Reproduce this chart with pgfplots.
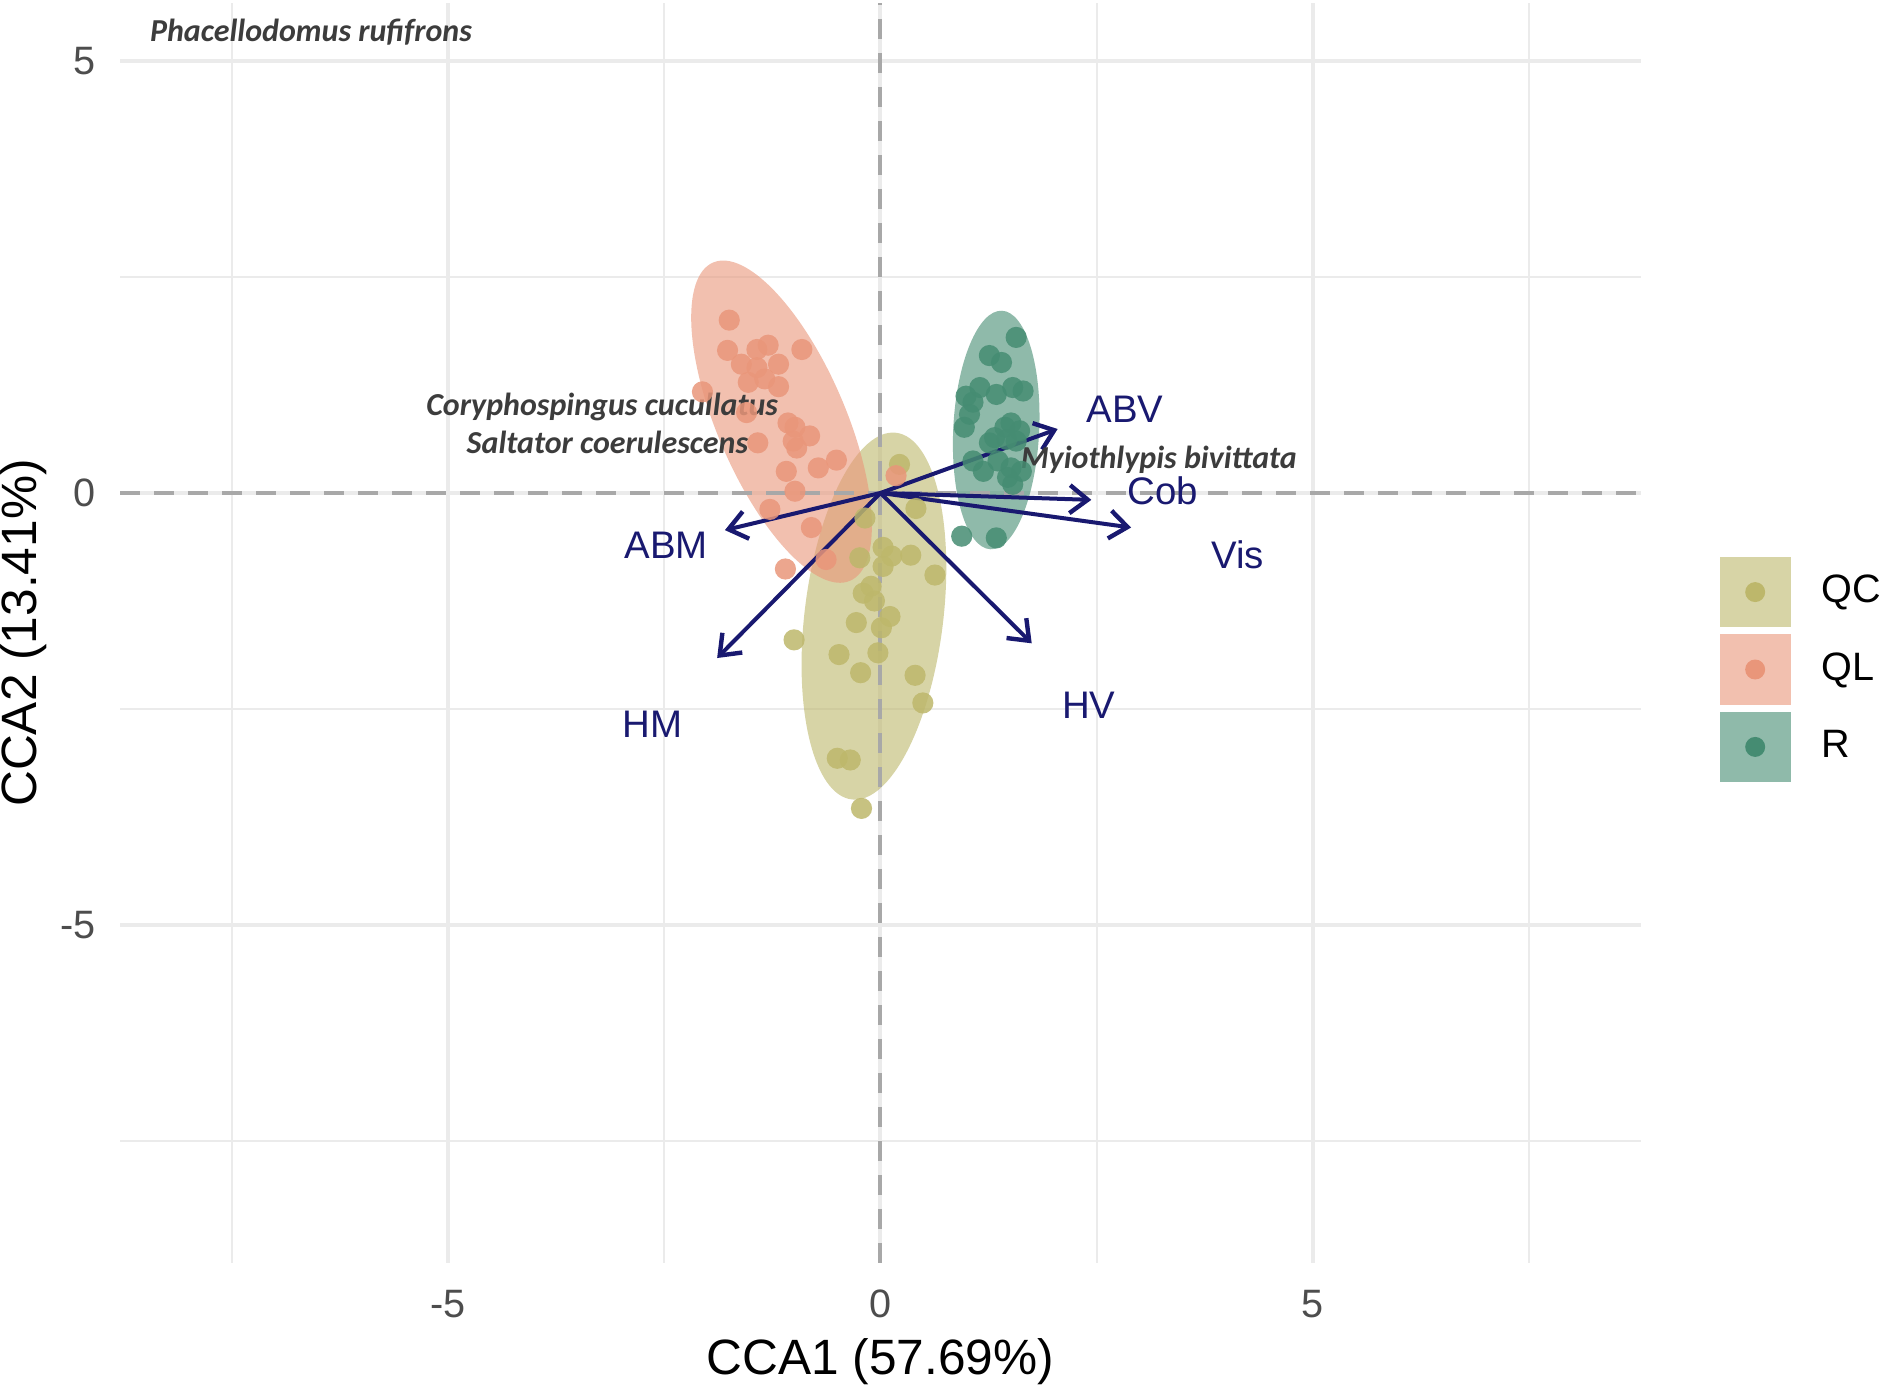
\documentclass[border=0pt]{standalone}
\usepackage{fontspec}
\setmainfont{Liberation Sans}
\newfontfamily\spfont{Carlito}
\usepackage{pgfplots}
\usepackage{pgfplotstable}
\pgfplotsset{compat=1.18}
\usetikzlibrary{arrows.meta}

\definecolor{qc}{HTML}{BDB76B}
\definecolor{ql}{HTML}{E9967A}
\definecolor{rr}{HTML}{458C72}
\definecolor{navy}{HTML}{191970}
\definecolor{gridc}{HTML}{EBEBEB}
\definecolor{tickc}{HTML}{4D4D4D}
\definecolor{dashc}{HTML}{A8A8A8}
\definecolor{spc}{HTML}{3C3C3C}

\pgfplotstableread{
x y
-1.75 2.00
-1.77 1.65
-1.61 1.49
-1.43 1.66
-1.30 1.71
-1.43 1.45
-1.18 1.49
-0.91 1.66
-1.53 1.28
-1.34 1.32
-1.18 1.23
-2.06 1.17
-1.55 0.93
-1.07 0.81
-0.99 0.76
-0.82 0.66
-1.01 0.60
-0.97 0.52
-1.42 0.58
-1.09 0.25
-0.72 0.29
-0.51 0.38
-0.99 0.02
-1.28 -0.19
-0.80 -0.40
-0.63 -0.77
-1.10 -0.88
0.18 0.20
}\qldata

\pgfplotstableread{
x y
0.22 0.33
0.41 -0.18
0.03 -0.63
0.13 -0.73
0.03 -0.85
0.35 -0.72
0.63 -0.95
-0.11 -1.08
-0.20 -1.16
-0.07 -1.25
0.11 -1.43
-0.28 -1.50
0.01 -1.56
-0.03 -1.85
-1.00 -1.70
-0.48 -1.87
-0.23 -2.08
0.40 -2.11
0.49 -2.43
-0.50 -3.07
-0.35 -3.09
-0.22 -3.65
-0.18 -0.29
-0.24 -0.75
}\qcdata

\pgfplotstableread{
x y
1.57 1.80
1.26 1.59
1.40 1.51
0.99 1.12
1.15 1.22
1.34 1.14
1.53 1.22
1.65 1.18
1.07 1.05
1.03 0.91
0.97 0.76
1.51 0.81
1.44 0.76
1.61 0.72
1.32 0.64
1.46 0.62
1.57 0.60
1.26 0.58
1.07 0.37
1.19 0.25
1.36 0.37
1.51 0.29
1.63 0.25
1.47 0.18
1.53 0.10
0.94 -0.50
1.34 -0.52
}\rdata

\begin{document}
\begin{tikzpicture}
\begin{axis}[name=ax,
  x=21.6pt, y=21.6pt,
  xmin=-8.8, xmax=8.8, ymin=-8.91, ymax=5.67,
  axis line style={draw=none},
  xtick={-5,0,5}, ytick={-5,0,5},
  xticklabels={-5,0,5}, yticklabels={-5,0,5},
  minor xtick={-7.5,-2.5,2.5,7.5}, minor ytick={-7.5,-2.5,2.5},
  grid=both,
  major grid style={gridc, line width=1pt},
  minor grid style={gridc, line width=0.5pt},
  major tick length=0pt, minor tick length=0pt,
  tick style={draw=none},
  ticklabel style={font=\fontsize{9.9}{11}\selectfont, text=tickc},
  xticklabel style={anchor=center, yshift=-10.2pt, inner sep=0pt},
  yticklabel style={anchor=east, xshift=-5.9pt, inner sep=0pt},
  xlabel={CCA1 (57.69\%)}, ylabel={CCA2 (13.41\%)},
  label style={font=\fontsize{12.4}{14}\selectfont},
  xlabel style={at={(axis description cs:0.5,-0.078)}, anchor=center},
  ylabel style={at={(axis description cs:-0.0631,0.5)}, anchor=center},
  clip=false,
  legend style={at={(axis description cs:1,0.471)}, anchor=west, xshift=19.5pt,
    draw=none, fill=none, inner sep=0pt, row sep=1.65pt,
    font=\fontsize{9.9}{11}\selectfont, nodes={inner sep=0pt}},
  legend cell align=left,
  pts/.style={only marks, mark=*, mark size=2.65pt, color=#1, fill=#1, draw opacity=0, fill opacity=0.85, mark options={solid, draw opacity=0, fill opacity=0.85}, forget plot},
]
% points
\addplot[pts=qc] table {\qcdata};
\addplot[pts=ql] table {\qldata};
\addplot[pts=rr] table {\rdata};
% ellipses
\fill[qc, draw=none, fill opacity=0.6, rotate around={83.1:(axis cs:-0.076,-1.425)}] (axis cs:-0.076,-1.425) ellipse [x radius=46.16pt, y radius=17.34pt];
\fill[ql, draw=none, fill opacity=0.6, rotate around={113.3:(axis cs:-1.145,0.825)}] (axis cs:-1.145,0.825) ellipse [x radius=43.3pt, y radius=16.03pt];
\fill[rr, draw=none, fill opacity=0.6, rotate around={87.2:(axis cs:1.339,0.7285)}] (axis cs:1.339,0.7285) ellipse [x radius=29.85pt, y radius=10.74pt];
% dashed zero lines
\addplot[dashc, line width=1pt, dash pattern=on 5pt off 3.5pt, forget plot] coordinates {(-8.8,0) (8.8,0)};
\addplot[dashc, line width=1pt, dash pattern=on 5pt off 3.5pt, forget plot] coordinates {(0,-8.91) (0,5.67)};
% arrows
\pgfplotsset{arr/.style={navy, line width=1pt, -{Straight Barb[length=4.5pt, width=7pt, line width=1.1pt]}, forget plot}}
\addplot[arr] coordinates {(0,0) (2.05,0.74)};
\addplot[arr] coordinates {(0,0) (2.44,-0.08)};
\addplot[arr] coordinates {(0,0) (2.90,-0.40)};
\addplot[arr] coordinates {(0,0) (1.75,-1.74)};
\addplot[arr] coordinates {(0,0) (-1.89,-1.91)};
\addplot[arr] coordinates {(0,0) (-1.80,-0.43)};
% arrow labels
\begin{scope}[every node/.style={text=navy, font=\fontsize{9.6}{11}\selectfont, inner sep=0pt}]
\node at (axis cs:2.83,0.97) {ABV};
\node at (axis cs:3.27,0.03) {Cob};
\node at (axis cs:4.13,-0.71) {Vis};
\node at (axis cs:2.41,-2.46) {HV};
\node at (axis cs:-2.64,-2.68) {HM};
\node at (axis cs:-2.48,-0.61) {ABM};
\end{scope}
% species labels
\begin{scope}[every node/.style={text=spc, font=\spfont\bfseries\itshape\fontsize{8}{9}\selectfont, inner sep=0pt}]
\node at (axis cs:-6.59,5.33) {Phacellodomus rufifrons};
\node at (axis cs:-3.22,0.99) {Coryphospingus cucullatus};
\node at (axis cs:-3.16,0.58) {Saltator coerulescens};
\node at (axis cs:3.22,0.38) {Myiothlypis bivittata};
\end{scope}
% legend
\addlegendimage{legend image code/.code={\path[fill=qc, draw=none, fill opacity=0.6] (0pt,-8.85pt) rectangle (17.7pt,8.85pt); \path[fill=qc, draw=none] (8.85pt,0pt) circle (2.5pt); \path (25.2pt,0pt);}}
\addlegendentry{QC}
\addlegendimage{legend image code/.code={\path[fill=ql, draw=none, fill opacity=0.6] (0pt,-8.85pt) rectangle (17.7pt,8.85pt); \path[fill=ql, draw=none] (8.85pt,0pt) circle (2.5pt); \path (25.2pt,0pt);}}
\addlegendentry{QL}
\addlegendimage{legend image code/.code={\path[fill=rr, draw=none, fill opacity=0.6] (0pt,-8.85pt) rectangle (17.7pt,8.85pt); \path[fill=rr, draw=none] (8.85pt,0pt) circle (2.5pt); \path (25.2pt,0pt);}}
\addlegendentry{R}
\end{axis}
\pgfresetboundingbox
\path[use as bounding box] ([xshift=-30pt,yshift=-32.1pt]ax.south west) rectangle ([xshift=60pt,yshift=0.75pt]ax.north east);
\end{tikzpicture}
\end{document}
